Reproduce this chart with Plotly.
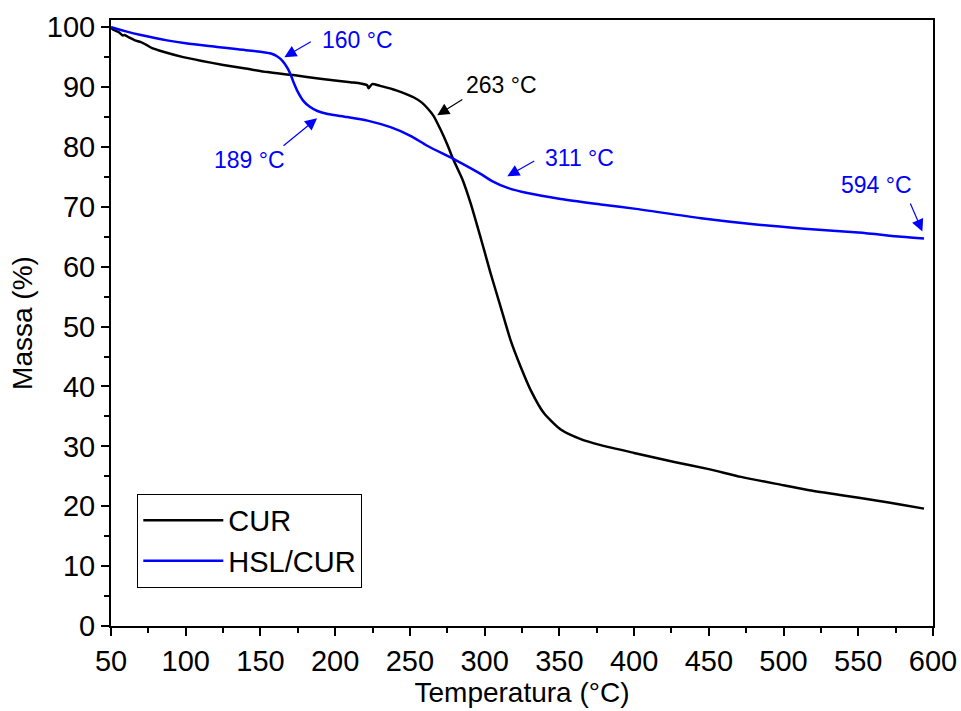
import plotly.graph_objects as go

# Thermogravimetric curves: temperature (°C) vs remaining mass (%)
cur_temp = [50, 51.3, 55, 58, 59, 62.7, 66, 70, 74, 77.5, 85, 98.3, 110, 125.1, 140,
            154.6, 172, 190, 210.2, 216.9, 221.4, 222.3, 224.7, 230, 239, 243.7, 252.4,
            258, 261.6, 265.8, 270.5, 275, 279.2, 285.1, 290.6, 299.3, 304.0, 310.7,
            317.4, 324.1, 330.8, 339.5, 350.9, 364.3, 377.7, 400, 426.9, 450, 471.6,
            500, 516.3, 540, 560.9, 580, 594]
cur_mass = [100.0, 99.6, 99.2, 98.6, 98.7, 98.2, 97.8, 97.5, 97.0, 96.5, 95.9, 95.0,
            94.4, 93.7, 93.1, 92.5, 92.0, 91.4, 90.8, 90.6, 90.3, 89.8, 90.5, 90.2,
            89.6, 89.2, 88.3, 87.4, 86.5, 85.2, 82.9, 80.4, 77.8, 74.6, 70.6, 63.1,
            58.9, 53.3, 47.7, 43.3, 39.4, 35.6, 32.8, 31.2, 30.2, 28.9, 27.4, 26.2,
            24.9, 23.5, 22.7, 21.8, 21.0, 20.2, 19.6]

hsl_temp = [50, 51.3, 60, 70, 87.5, 100, 121, 135, 149.9, 157, 161.3, 165, 168, 170,
            172, 175, 178.7, 183, 188.1, 195, 208.2, 221.6, 237, 250, 261.6, 280.6,
            297.3, 305, 315, 328.6, 350.9, 377.7, 400, 444.8, 480, 511.8, 550, 578.8, 594]
hsl_mass = [100.0, 99.9, 99.3, 98.7, 97.8, 97.3, 96.7, 96.3, 95.9, 95.6, 95.1, 94.3,
            93.2, 92.2, 90.9, 89.2, 87.7, 86.7, 86.0, 85.5, 85.0, 84.4, 83.3, 81.9,
            80.2, 77.8, 75.5, 74.3, 73.2, 72.3, 71.3, 70.4, 69.7, 68.1, 67.1, 66.4, 65.7,
            65.0, 64.7]

x_ticks = [50, 100, 150, 200, 250, 300, 350, 400, 450, 500, 550, 600]
y_ticks = [0, 10, 20, 30, 40, 50, 60, 70, 80, 90, 100]

# Event labels: text, text position, arrow tail, arrow tip, colour
events = [
    ("160 °C", (214.9, 97.8), (184.7, 97.7), (166.0, 95.0), "#0000FF"),
    ("189 °C", (142.5, 77.8), (164.4, 80.0), (187.9, 84.8), "#0000FF"),
    ("263 °C", (311.4, 90.3), (286.1, 88.1), (268.3, 85.3), "#000000"),
    ("311 °C", (363.7, 78.1), (334.2, 77.8), (315.2, 75.1), "#0000FF"),
    ("594 °C", (562.1, 73.6), (584.4, 70.8), (592.9, 65.9), "#0000FF"),
]

FONT = "Liberation Sans, Arial, sans-serif"

fig = go.Figure()
fig.add_trace(go.Scatter(x=cur_temp, y=cur_mass, mode="lines", name="CUR",
                         line=dict(color="#000000", width=2.5, shape="spline", smoothing=0.6)))
fig.add_trace(go.Scatter(x=hsl_temp, y=hsl_mass, mode="lines", name="HSL/CUR",
                         line=dict(color="#0000FF", width=2.5, shape="spline", smoothing=0.8)))

annotations = []
for text, (tx, ty), (ax, ay), (hx, hy), col in events:
    annotations.append(dict(x=tx, y=ty, xref="x", yref="y", text=text, showarrow=False,
                            font=dict(family=FONT, size=23, color=col)))
    annotations.append(dict(x=hx, y=hy, ax=ax, ay=ay, xref="x", yref="y",
                            axref="x", ayref="y", text="", showarrow=True,
                            arrowhead=2, arrowsize=2.0, arrowwidth=1.2,
                            arrowcolor=col, standoff=0, startstandoff=0))

axis_common = dict(
    showline=True, linecolor="#000000", linewidth=2, mirror=True,
    ticks="outside", ticklen=8, tickwidth=2, tickcolor="#000000",
    showgrid=False, zeroline=False, automargin=False,
    tickfont=dict(family=FONT, size=29, color="#000000"),
)

fig.update_layout(
    width=961, height=711,
    margin=dict(l=111, r=28, t=20, b=85),
    paper_bgcolor="white", plot_bgcolor="white",
    font=dict(family=FONT, color="#000000"),
    showlegend=True,
    legend=dict(x=0.032, y=0.063, xanchor="left", yanchor="bottom",
                bordercolor="#000000", borderwidth=1, bgcolor="white",
                font=dict(family=FONT, size=29, color="#000000"),
                itemwidth=80, tracegroupgap=0),
    annotations=annotations,
    xaxis=dict(range=[50, 600], tickvals=x_ticks,
               minor=dict(ticks="outside", ticklen=5, tickwidth=2, tickcolor="#000000", dtick=25),
               title=dict(text="Temperatura (°C)", font=dict(family=FONT, size=28), standoff=2),
               **axis_common),
    yaxis=dict(range=[0, 101.2], tickvals=y_ticks,
               minor=dict(ticks="outside", ticklen=5, tickwidth=2, tickcolor="#000000", dtick=5),
               title=dict(text="Massa (%)", font=dict(family=FONT, size=28), standoff=6),
               **axis_common),
)

fig.write_html("out.html")
